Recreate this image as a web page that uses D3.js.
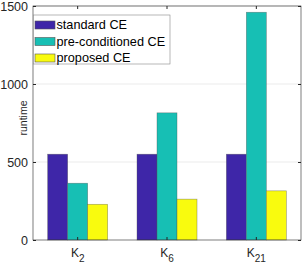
<!DOCTYPE html>
<html>
<head>
<meta charset="utf-8">
<script src="https://cdn.jsdelivr.net/npm/d3@7"></script>
<style>
  body { margin: 0; background: #fff; }
  text { font-family: "Liberation Sans", Arial, sans-serif; }
</style>
</head>
<body>
<div id="chart"></div>
<script>
const categories = ["2", "6", "21"];
const seriesNames = ["standard CE", "pre-conditioned CE", "proposed CE"];
const standardCE = [550, 550, 550];
const preconditionedCE = [364, 815, 1460];
const proposedCE = [229, 262, 315];
const yTicks = [0, 500, 1000, 1500];
const colors = ["#3e26a8", "#17bfb4", "#f9fb0e"];

const W = 304, H = 266;
const margin = { top: 6, right: 3, bottom: 26, left: 33 };
const width = W - margin.left - margin.right;
const height = H - margin.top - margin.bottom;

const series = [standardCE, preconditionedCE, proposedCE];

const svg = d3.select("#chart").append("svg")
  .attr("width", W)
  .attr("height", H);

const g = svg.append("g")
  .attr("transform", `translate(${margin.left},${margin.top})`);

const x = d3.scaleBand()
  .domain(categories)
  .range([0, width])
  .padding(0);

const xSub = d3.scaleBand()
  .domain(d3.range(series.length))
  .range([x.bandwidth() / 2 - 30, x.bandwidth() / 2 + 30]);

const y = d3.scaleLinear()
  .domain([0, 1500])
  .range([height, 0]);

// grid
g.selectAll(".grid")
  .data(yTicks.slice(1))
  .enter().append("line")
  .attr("x1", 0).attr("x2", width)
  .attr("y1", d => y(d)).attr("y2", d => y(d))
  .attr("stroke", "#ebebeb")
  .attr("stroke-width", 1);

// bars
categories.forEach((c, i) => {
  series.forEach((s, j) => {
    g.append("rect")
      .attr("x", x(c) + xSub(j))
      .attr("y", y(s[i]))
      .attr("width", xSub.bandwidth())
      .attr("height", height - y(s[i]))
      .attr("fill", colors[j])
      .attr("stroke", "#555")
      .attr("stroke-opacity", 0.6)
      .attr("stroke-width", 0.6);
  });
});

// box + ticks
g.append("rect")
  .attr("x", 0).attr("y", 0)
  .attr("width", width).attr("height", height)
  .attr("fill", "none")
  .attr("stroke", "#262626")
  .attr("stroke-width", 0.6);

const yAxis = d3.axisLeft(y).tickValues(yTicks).tickSize(-3).tickPadding(5).tickFormat(d3.format("d"));
const yAxisG = g.append("g").call(yAxis);
yAxisG.select(".domain").remove();
yAxisG.selectAll("line").attr("stroke", "#262626");
yAxisG.selectAll("text").attr("font-size", 12.5).attr("fill", "#262626");

const yAxisR = d3.axisRight(y).tickValues(yTicks).tickSize(-3).tickFormat("");
const yAxisRG = g.append("g").attr("transform", `translate(${width},0)`).call(yAxisR);
yAxisRG.select(".domain").remove();
yAxisRG.selectAll("line").attr("stroke", "#262626");

const xAxisB = d3.axisBottom(x).tickSize(-3).tickFormat("");
const xAxisBG = g.append("g").attr("transform", `translate(0,${height})`).call(xAxisB);
xAxisBG.select(".domain").remove();
xAxisBG.selectAll("line").attr("stroke", "#262626");

const xAxisT = d3.axisTop(x).tickSize(-3).tickFormat("");
const xAxisTG = g.append("g").call(xAxisT);
xAxisTG.select(".domain").remove();
xAxisTG.selectAll("line").attr("stroke", "#262626");

// x labels with subscripts
categories.forEach(c => {
  const t = g.append("text")
    .attr("x", x(c) + x.bandwidth() / 2)
    .attr("y", height + 16.5)
    .attr("text-anchor", "middle")
    .attr("font-size", 12)
    .attr("fill", "#262626");
  t.append("tspan").text("K");
  t.append("tspan").attr("dy", 5.5).attr("font-size", 10).text(c);
});

// y label
svg.append("text")
  .attr("transform", "translate(26.5,118) rotate(-90)")
  .attr("text-anchor", "middle")
  .attr("font-size", 10.5)
  .attr("fill", "#262626")
  .text("runtime");

// legend
const legend = svg.append("g").attr("transform", "translate(33.5,15)");
legend.append("rect")
  .attr("width", 136.5).attr("height", 49)
  .attr("fill", "#fff")
  .attr("stroke", "#888")
  .attr("stroke-width", 0.6);

seriesNames.forEach((name, j) => {
  const row = legend.append("g").attr("transform", `translate(0,${j * 16.5})`);
  row.append("rect")
    .attr("x", 1.5).attr("y", 6)
    .attr("width", 20).attr("height", 8)
    .attr("fill", colors[j])
    .attr("stroke", "#555")
    .attr("stroke-width", 0.6);
  row.append("text")
    .attr("x", 23).attr("y", 14)
    .attr("font-size", 12.7)
    .attr("fill", "#000")
    .text(name);
});
</script>
</body>
</html>
